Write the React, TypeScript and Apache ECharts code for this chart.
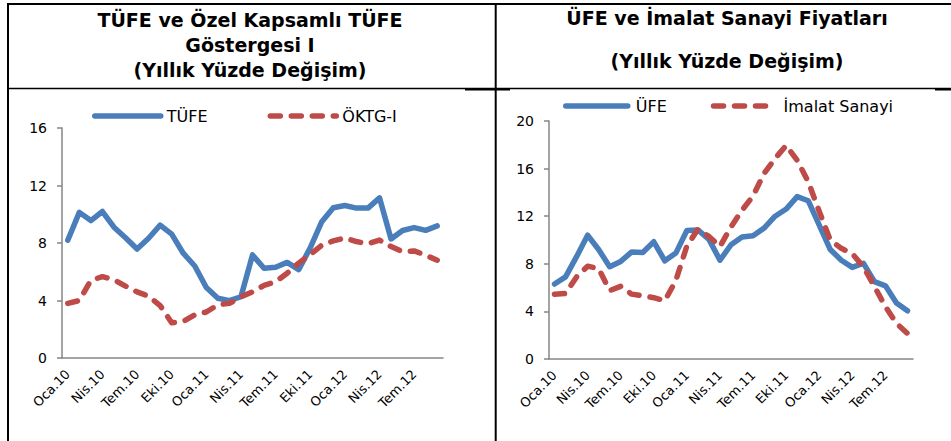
import React, { useEffect, useRef } from "react";
import * as echarts from "echarts";

const categories = [
  "Oca.10", "Şub.10", "Mar.10", "Nis.10", "May.10", "Haz.10", "Tem.10", "Ağu.10", "Eyl.10", "Eki.10", "Kas.10", "Ara.10",
  "Oca.11", "Şub.11", "Mar.11", "Nis.11", "May.11", "Haz.11", "Tem.11", "Ağu.11", "Eyl.11", "Eki.11", "Kas.11", "Ara.11",
  "Oca.12", "Şub.12", "Mar.12", "Nis.12", "May.12", "Haz.12", "Tem.12", "Ağu.12", "Eyl.12",
];

const tufe = [8.19, 10.13, 9.56, 10.19, 9.1, 8.37, 7.58, 8.33, 9.24, 8.62, 7.29, 6.4, 4.9, 4.16, 3.99, 4.26, 7.17, 6.24, 6.31, 6.65, 6.15, 7.66, 9.48, 10.45, 10.61, 10.43, 10.43, 11.14, 8.28, 8.87, 9.07, 8.88, 9.19];
const oktg = [3.8, 4.0, 5.4, 5.66, 5.45, 5.0, 4.6, 4.3, 3.65, 2.45, 2.55, 3.0, 3.2, 3.7, 3.8, 4.25, 4.6, 5.05, 5.3, 5.9, 6.6, 7.2, 7.85, 8.15, 8.35, 8.1, 7.95, 8.2, 7.75, 7.4, 7.45, 7.15, 6.8];
const ufe = [6.3, 6.9, 8.6, 10.4, 9.2, 7.75, 8.2, 9.0, 8.95, 9.85, 8.25, 8.9, 10.8, 10.85, 10.05, 8.3, 9.6, 10.25, 10.35, 11.0, 12.0, 12.6, 13.65, 13.3, 11.25, 9.2, 8.3, 7.7, 8.05, 6.5, 6.15, 4.7, 4.05];
const imalat = [5.45, 5.5, 6.9, 7.8, 7.6, 5.75, 6.1, 5.45, 5.3, 5.15, 4.9, 6.6, 9.5, 10.9, 10.3, 9.45, 11.1, 12.5, 13.7, 15.6, 16.85, 17.95, 16.7, 14.9, 12.4, 10.0, 9.3, 8.85, 7.75, 6.1, 4.4, 3.0, 2.15];

const leftTitle = ["TÜFE ve Özel Kapsamlı TÜFE", "Göstergesi I", "(Yıllık Yüzde Değişim)"];
const rightTitle = ["ÜFE ve İmalat Sanayi Fiyatları", "(Yıllık Yüzde Değişim)"];

const BLUE = "#4A7EBB";
const RED = "#BE4B48";
const FONT = "DejaVu Sans, Verdana, sans-serif";

export default function App() {
  const ref = useRef<HTMLDivElement>(null);
  useEffect(() => {
    if (!ref.current) return;
    const chart = echarts.init(ref.current, null, { renderer: "svg" });
    const xAxisBase = (gi: number) => ({
      type: "category" as const,
      gridIndex: gi,
      data: categories,
      boundaryGap: true,
      axisLine: { lineStyle: { color: "#868686", width: 1.5 } },
      axisTick: { interval: 2, length: 5, lineStyle: { color: "#868686", width: 1.5 } },
      axisLabel: {
        interval: 2,
        rotate: 45,
        margin: 14,
        fontSize: 13,
        fontFamily: FONT,
        color: "#000",
      },
      splitLine: { show: false },
    });
    const yAxisBase = (gi: number, max: number) => ({
      type: "value" as const,
      gridIndex: gi,
      min: 0,
      max,
      interval: 4,
      axisLine: { show: true, lineStyle: { color: "#868686", width: 1.5 } },
      axisTick: { show: true, length: 5, lineStyle: { color: "#868686", width: 1.5 } },
      axisLabel: { fontSize: 14, fontFamily: FONT, color: "#000", margin: 15 },
      splitLine: { show: false },
    });
    const titleText = (lines: string[], x: number, ys: number[]) =>
      lines.map((t, i) => ({
        type: "text",
        x,
        y: ys[i],
        style: {
          text: t,
          fill: "#000",
          font: `bold 19px ${FONT}`,
          textAlign: "center",
          textVerticalAlign: "middle",
        },
      }));
    const line = (x1: number, y1: number, x2: number, y2: number, w: number) => ({
      type: "line",
      shape: { x1, y1, x2, y2 },
      style: { stroke: "#000", lineWidth: w },
    });
    const legendCommon = {
      padding: 0,
      itemHeight: 14,
      itemStyle: { color: "transparent", borderWidth: 0, opacity: 0 },
      lineStyle: { width: 5.5, cap: "round" },
    };
    chart.setOption({
      animation: false,
      backgroundColor: "#fff",
      grid: [
        { left: 62, top: 128, width: 381, height: 230 },
        { left: 549, top: 121, width: 364, height: 238 },
      ],
      xAxis: [xAxisBase(0), xAxisBase(1)],
      yAxis: [yAxisBase(0, 16), yAxisBase(1, 20)],
      legend: [
        {
          ...legendCommon,
          left: 92,
          top: 108,
          itemWidth: 66,
          itemGap: 60,
          data: ["TÜFE", "ÖKTG-I"],
          textStyle: { fontSize: 16, fontFamily: FONT, color: "#000", padding: [0, 0, 0, 1] },
        },
        {
          ...legendCommon,
          left: 563,
          top: 98,
          itemWidth: 62,
          itemGap: 44,
          data: ["ÜFE", "İmalat Sanayi"],
          textStyle: { fontSize: 16, fontFamily: FONT, color: "#000", padding: [0, 0, 0, 3] },
        },
      ],
      series: [
        {
          name: "TÜFE",
          type: "line",
          xAxisIndex: 0,
          yAxisIndex: 0,
          data: tufe,
          symbol: "none",
          color: BLUE,
          lineStyle: { color: BLUE, width: 5.5, join: "round", cap: "round" },
        },
        {
          name: "ÖKTG-I",
          type: "line",
          xAxisIndex: 0,
          yAxisIndex: 0,
          data: oktg,
          symbol: "none",
          color: RED,
          lineStyle: { color: RED, width: 5.5, type: [10, 11], join: "round", cap: "round" },
        },
        {
          name: "ÜFE",
          type: "line",
          xAxisIndex: 1,
          yAxisIndex: 1,
          data: ufe,
          symbol: "none",
          color: BLUE,
          lineStyle: { color: BLUE, width: 5.5, join: "round", cap: "round" },
        },
        {
          name: "İmalat Sanayi",
          type: "line",
          xAxisIndex: 1,
          yAxisIndex: 1,
          data: imalat,
          symbol: "none",
          color: RED,
          lineStyle: { color: RED, width: 5.5, type: [10, 11], join: "round", cap: "round" },
        },
      ],
      graphic: [
        line(7, 4, 951, 4, 2),
        line(8, 3, 8, 441, 2),
        line(495.7, 3, 495.7, 441, 2),
        line(8, 88.5, 951, 88.5, 1.5),
        line(465, 89.5, 510, 89.5, 2),
        line(935, 89.5, 951, 89.5, 2),
        ...titleText(leftTitle, 250, [20, 45, 70]),
        ...titleText(rightTitle, 727, [18, 61]),
      ],
    });
    return () => chart.dispose();
  }, []);
  return (
    <div
      ref={ref}
      style={{ position: "absolute", left: 0, top: 0, width: 951, height: 441, background: "#fff" }}
    />
  );
}
